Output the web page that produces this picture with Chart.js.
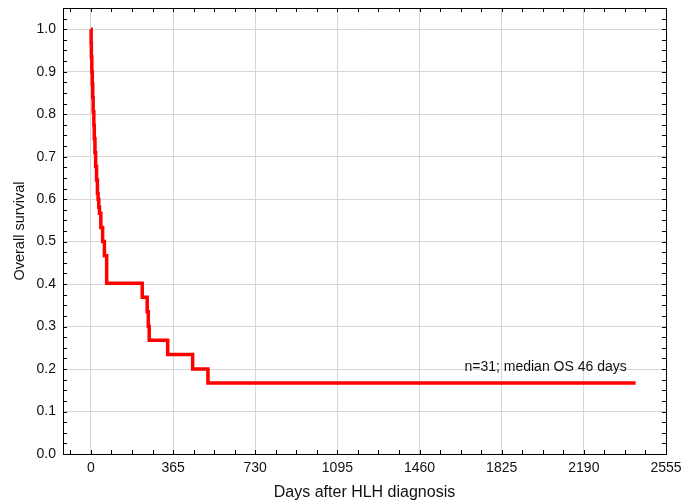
<!DOCTYPE html>
<html>
<head>
<meta charset="utf-8">
<script src="https://cdn.jsdelivr.net/npm/chart.js@4.4.0/dist/chart.umd.min.js"></script>
<style>
  html, body { margin: 0; padding: 0; background: #fff; }
  #wrap { position: relative; width: 683px; height: 500px; }
</style>
</head>
<body>
<div id="wrap"><canvas id="km"></canvas></div>
<script>
// Kaplan-Meier estimate (days, survival after event)
const days = [0, 1, 2, 4, 6, 8, 10, 13, 15, 18, 21, 25, 29, 32, 35, 38, 44, 52, 60, 70, 228, 250, 255, 259, 341, 452, 520, 2420];
const survival = [1.0, 0.968, 0.935, 0.9, 0.871, 0.839, 0.806, 0.774, 0.742, 0.71, 0.677, 0.645, 0.613, 0.6, 0.581, 0.567, 0.533, 0.5, 0.467, 0.402, 0.369, 0.335, 0.30, 0.268, 0.234, 0.2, 0.167, 0.167];

const xTicks = [0, 365, 730, 1095, 1460, 1825, 2190, 2555];
const yTicks = [0, 0.1, 0.2, 0.3, 0.4, 0.5, 0.6, 0.7, 0.8, 0.9, 1.0];
const note = 'n=31; median OS 46 days';

const FONT = 'Liberation Sans, Arial, Helvetica, sans-serif';

// frame box, inward ticks on all four sides and the annotation
const framePlugin = {
  id: 'frame',
  afterDraw(chart) {
    const { ctx, chartArea: a, scales: { x, y } } = chart;
    ctx.save();
    ctx.strokeStyle = '#000';
    ctx.lineWidth = 1;
    ctx.strokeRect(a.left + 0.5, a.top + 0.5, a.right - a.left, a.bottom - a.top);

    ctx.beginPath();
    for (let v = -365 / 4; v <= x.max + 0.01; v += 365 / 4) {
      if (v < x.min) continue;
      const px = Math.round(x.getPixelForValue(v)) + 0.5;
      ctx.moveTo(px, a.bottom); ctx.lineTo(px, a.bottom - 4);
      ctx.moveTo(px, a.top); ctx.lineTo(px, a.top + 4);
    }
    for (let v = 0; v <= y.max + 0.0001; v += 0.025) {
      const py = Math.round(y.getPixelForValue(v)) + 0.5;
      ctx.moveTo(a.left, py); ctx.lineTo(a.left + 4, py);
      ctx.moveTo(a.right, py); ctx.lineTo(a.right - 4, py);
    }
    ctx.stroke();

    ctx.fillStyle = '#111';
    ctx.font = '14px ' + FONT;
    ctx.textAlign = 'center';
    ctx.textBaseline = 'middle';
    ctx.fillText(note, x.getPixelForValue(2020), y.getPixelForValue(0.205));
    ctx.restore();
  }
};

new Chart(document.getElementById('km'), {
  type: 'line',
  data: {
    datasets: [{
      data: days.map((d, i) => ({ x: d, y: survival[i] })),
      borderColor: '#ff0000',
      borderWidth: 3.5,
      pointRadius: 0,
      stepped: 'before',
      fill: false
    }]
  },
  options: {
    responsive: true,
    maintainAspectRatio: false,
    animation: false,
    layout: { padding: { top: 8, right: 17, left: 0, bottom: 0 } },
    plugins: { legend: { display: false }, tooltip: { enabled: false } },
    scales: {
      x: {
        type: 'linear',
        min: -124,
        max: 2555,
        afterBuildTicks: s => { s.ticks = xTicks.map(v => ({ value: v })); },
        afterFit: s => { s.height = 46; s.paddingLeft = 0; s.paddingRight = 0; },
        ticks: { color: '#111', font: { family: FONT, size: 14 }, padding: 6, maxRotation: 0, callback: v => String(v) },
        grid: { color: '#d6d6d6', drawTicks: false },
        border: { display: false },
        title: { display: true, text: 'Days after HLH diagnosis', color: '#111', font: { family: FONT, size: 16 }, padding: { top: 0, bottom: -2 } }
      },
      y: {
        min: 0,
        max: 1.05,
        afterBuildTicks: s => { s.ticks = yTicks.map(v => ({ value: v })); },
        afterFit: s => { s.width = 63; s.paddingTop = 0; s.paddingBottom = 0; },
        ticks: { color: '#111', font: { family: FONT, size: 14 }, padding: 7, callback: v => v.toFixed(1) },
        grid: { color: '#d6d6d6', drawTicks: false },
        border: { display: false },
        title: { display: true, text: 'Overall survival', color: '#111', font: { family: FONT, size: 14.5 }, padding: { top: 11, bottom: 0 } }
      }
    }
  },
  plugins: [framePlugin]
});
</script>
</body>
</html>
